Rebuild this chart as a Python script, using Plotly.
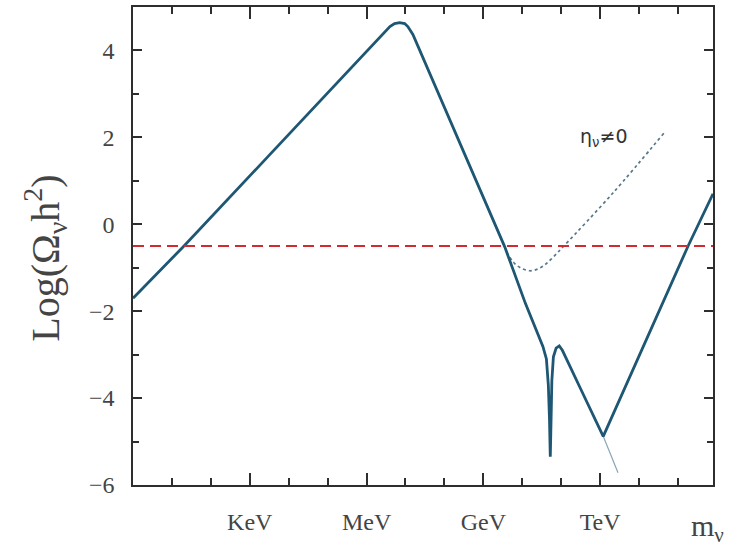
import plotly.graph_objects as go

# log10(m_nu / eV) and Log(Omega h^2)
main_logm = [0.0, 1.31, 3.49, 6.08, 6.40, 6.60, 6.72, 6.85, 6.98, 7.06, 7.19, 8.30, 9.55,
             10.08, 10.53, 10.62, 10.67, 10.70, 10.72, 10.74, 10.76, 10.80, 10.87, 10.95,
             11.03, 11.48, 12.08, 14.26, 14.90]
main_omega = [-1.70, -0.50, 1.58, 4.07, 4.37, 4.55, 4.62, 4.64, 4.62, 4.55, 4.37, 2.08, -0.52,
              -1.82, -2.81, -3.10, -3.70, -4.50, -5.35, -4.50, -3.60, -3.05, -2.85, -2.80,
              -2.90, -3.75, -4.88, -0.50, 0.70]

tail_logm = [12.08, 12.46]
tail_omega = [-4.88, -5.72]

eta_logm = [9.60, 9.78, 9.95, 10.19, 10.40, 10.60, 10.80, 11.09, 12.33, 13.66]
eta_omega = [-0.64, -0.88, -1.00, -1.07, -1.03, -0.92, -0.75, -0.48, 0.72, 2.12]

omega_bound = -0.5

tick_logm = [3, 6, 9, 12]
tick_text = ["KeV", "MeV", "GeV", "TeV"]
minor_logm = list(range(0, 15))

y_major = [-6, -4, -2, 0, 2, 4]

SERIF = "Liberation Serif"
FRAME = "#2e2e2e"

fig = go.Figure()
fig.add_trace(go.Scatter(x=tail_logm, y=tail_omega, mode="lines",
                         line=dict(color="#8aa6b6", width=1.2), showlegend=False))
fig.add_trace(go.Scatter(x=eta_logm, y=eta_omega, mode="lines", line_shape="spline",
                         line=dict(color="#56788a", width=1.7, dash="dot"), showlegend=False))
fig.add_trace(go.Scatter(x=main_logm, y=main_omega, mode="lines",
                         line=dict(color="#1d5774", width=2.8), showlegend=False))

fig.add_hline(y=omega_bound, line=dict(color="#d42a2f", width=2, dash="11px,6px"))

fig.add_annotation(x=12.1, y=2.0, text="η<sub>ν</sub>≠0", showarrow=False,
                   font=dict(family="DejaVu Sans", size=19, color="#333333"))
fig.add_annotation(xref="paper", yref="paper", x=-0.152, y=0.475,
                   text="Log(Ω<sub>ν</sub>h<sup>2</sup>)", textangle=-90, showarrow=False,
                   xanchor="center", yanchor="middle",
                   font=dict(family=SERIF, size=40, color="#444444"))
fig.add_annotation(xref="paper", yref="paper", x=0.99, y=-0.09,
                   text="m<sub>ν</sub>", showarrow=False,
                   xanchor="center", yanchor="middle",
                   font=dict(family=SERIF, size=30, color="#444444"))

fig.update_xaxes(range=[0, 14.9], showgrid=False, zeroline=False,
                 showline=True, linecolor=FRAME, linewidth=1.5, mirror="allticks",
                 ticks="inside", ticklen=12, tickwidth=1.5, tickcolor=FRAME,
                 tickvals=tick_logm, ticktext=tick_text, ticklabelstandoff=14,
                 tickfont=dict(family=SERIF, size=24, color="#444444"),
                 minor=dict(ticks="inside", tickvals=minor_logm, ticklen=7,
                            tickwidth=1.5, tickcolor=FRAME))
fig.update_yaxes(range=[-6, 5], showgrid=False, zeroline=False,
                 showline=True, linecolor=FRAME, linewidth=1.5, mirror="allticks",
                 ticks="inside", ticklen=9, tickwidth=1.5, tickcolor=FRAME,
                 tickvals=y_major, ticklabelstandoff=12,
                 tickfont=dict(family=SERIF, size=24, color="#444444"),
                 minor=dict(ticks="inside", dtick=1, ticklen=6,
                            tickwidth=1.5, tickcolor=FRAME))

fig.update_layout(width=735, height=550, margin=dict(l=133, r=22, t=5, b=65),
                  plot_bgcolor="white", paper_bgcolor="white")

fig.write_html("out.html", config={"displayModeBar": False},
               post_script="document.body.style.margin='0px';")
